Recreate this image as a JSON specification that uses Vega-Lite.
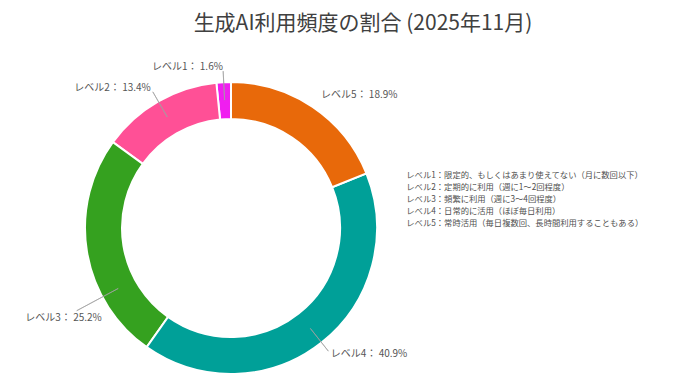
{
  "$schema": "https://vega.github.io/schema/vega-lite/v6.json",
  "width": 700,
  "height": 385,
  "padding": 0,
  "autosize": {"type": "none"},
  "background": "#ffffff",
  "title": {
    "text": "生成AI利用頻度の割合 (2025年11月)",
    "font": "Noto Sans CJK JP",
    "fontSize": 21,
    "fontWeight": "normal",
    "color": "#404040",
    "anchor": "middle",
    "frame": "group",
    "baseline": "alphabetic",
    "offset": -31,
    "dy": 20,
    "dx": 13
  },
  "data": {
    "values": [
      {"level": "レベル1", "pct": 1.6, "label": "レベル1： 1.6%", "desc": "レベル1：限定的、もしくはあまり使えてない（月に数回以下）"},
      {"level": "レベル2", "pct": 13.4, "label": "レベル2： 13.4%", "desc": "レベル2：定期的に利用（週に1～2回程度）"},
      {"level": "レベル3", "pct": 25.2, "label": "レベル3： 25.2%", "desc": "レベル3：頻繁に利用（週に3～4回程度）"},
      {"level": "レベル4", "pct": 40.9, "label": "レベル4： 40.9%", "desc": "レベル4：日常的に活用（ほぼ毎日利用）"},
      {"level": "レベル5", "pct": 18.9, "label": "レベル5： 18.9%", "desc": "レベル5：常時活用（毎日複数回、長時間利用することもある）"}
    ]
  },
  "transform": [
    {"stack": "pct", "groupby": [], "sort": [{"field": "level", "order": "descending"}], "as": ["s0", "s1"]}
  ],
  "layer": [
    {
      "mark": {"type": "arc", "x": 231, "y": 228, "innerRadius": 109, "outerRadius": 146, "stroke": "#ffffff", "strokeWidth": 2},
      "encoding": {
        "theta": {"field": "pct", "type": "quantitative", "stack": true},
        "order": {"field": "level", "type": "ordinal", "sort": "descending"},
        "color": {
          "field": "desc",
          "type": "nominal",
          "scale": {
            "domain": [
              "レベル1：限定的、もしくはあまり使えてない（月に数回以下）",
              "レベル2：定期的に利用（週に1～2回程度）",
              "レベル3：頻繁に利用（週に3～4回程度）",
              "レベル4：日常的に活用（ほぼ毎日利用）",
              "レベル5：常時活用（毎日複数回、長時間利用することもある）"
            ],
            "range": ["#F01EF0", "#FF5096", "#35A11F", "#00A098", "#E8690A"]
          },
          "legend": {
            "orient": "none",
            "legendX": 398,
            "legendY": 172,
            "title": null,
            "symbolOpacity": 0,
            "symbolSize": 0,
            "symbolStrokeWidth": 0,
            "labelOffset": 0,
            "labelLimit": 500,
            "labelFont": "Noto Sans CJK JP",
            "labelFontSize": 8.3,
            "labelColor": "#505050",
            "rowPadding": 3,
            "symbolLimit": 0
          }
        }
      }
    },
    {
      "transform": [{"filter": "datum.level != 'レベル5'"}],
      "mark": {
        "type": "arc",
        "x": 231,
        "y": 228,
        "radius": {"expr": "datum.level == 'レベル3' ? 175 : 157"},
        "radius2": 128,
        "theta": {"expr": "datum.level == 'レベル3' ? 4.22 : PI * (datum.s0 + datum.s1) / 100"},
        "theta2": {"expr": "(datum.level == 'レベル3' ? 4.22 : PI * (datum.s0 + datum.s1) / 100) + 0.0005"},
        "fill": null,
        "stroke": "#a0a0a0",
        "strokeWidth": 0.7
      },
      "encoding": {
        "detail": {"field": "level", "type": "nominal"}
      }
    },
    {
      "mark": {
        "type": "text",
        "x": 231,
        "y": 228,
        "radius": {"expr": "datum.level == 'レベル3' ? 190 : 161"},
        "theta": {"expr": "datum.level == 'レベル3' ? 4.22 : PI * (datum.s0 + datum.s1) / 100"},
        "font": "Noto Sans CJK JP",
        "fontSize": 10,
        "color": "#555555",
        "baseline": "middle",
        "align": {"expr": "datum.level == 'レベル3' ? 'center' : ((datum.s0 + datum.s1) / 2 < 50 ? 'left' : 'right')"}
      },
      "encoding": {
        "text": {"field": "label", "type": "nominal"},
        "detail": {"field": "desc", "type": "nominal"}
      }
    }
  ]
}
